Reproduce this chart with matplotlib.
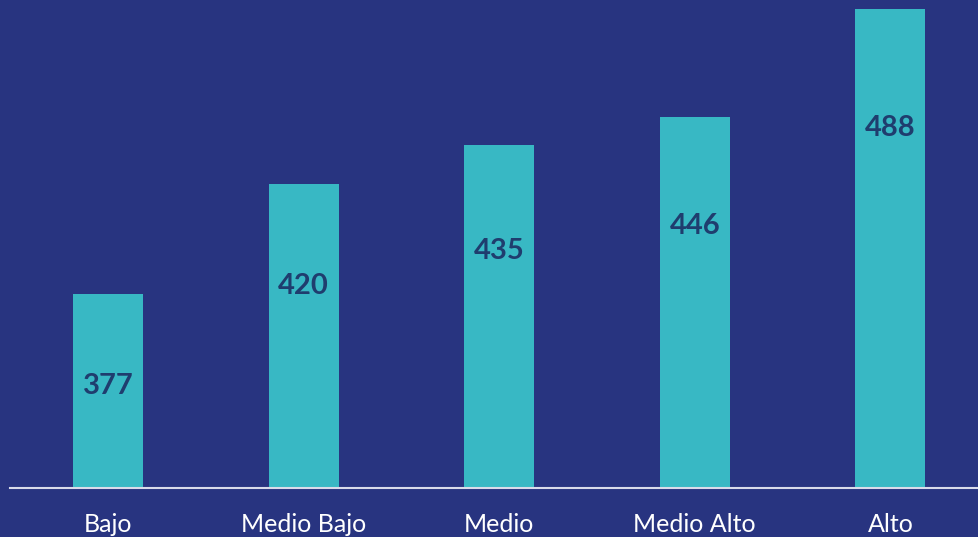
import matplotlib.pyplot as plt

# Datos
categorias = ['Bajo', 'Medio Bajo', 'Medio', 'Medio Alto', 'Alto']
valores = [377, 420, 435, 446, 488]

fondo = '#283480'
color_barra = '#38B8C4'
color_etiqueta = '#1F3D6E'

fig = plt.figure(figsize=(9.79, 5.37), dpi=100, facecolor=fondo)
ax = fig.add_axes([10 / 979, 49 / 537, 969 / 979, 488 / 537])
ax.set_facecolor(fondo)

x = list(range(len(categorias)))
ax.bar(x, valores, width=0.358, color=color_barra, bottom=0)

# Límites de los ejes
ax.set_xlim(-0.501, 4.453)
ax.set_ylim(301.2, 491.7)

# Etiquetas de valor dentro de las barras
for xi, v in zip(x, valores):
    ax.text(xi, v * 0.905, str(v), ha='center', va='center',
            fontsize=21, fontweight='bold', color=color_etiqueta, family='Lato')

# Etiquetas de categorías
for xi, c in zip(x, categorias):
    ax.text(xi, -0.075, c, transform=ax.get_xaxis_transform(), ha='center', va='center',
            fontsize=18, color='white', family='Lato')

for s in ['top', 'right', 'left']:
    ax.spines[s].set_visible(False)
ax.spines['bottom'].set_color('#D9DBEA')
ax.spines['bottom'].set_linewidth(1.5)
ax.set_xticks([])
ax.set_yticks([])

fig.savefig('out.png', dpi=100, facecolor=fondo)
